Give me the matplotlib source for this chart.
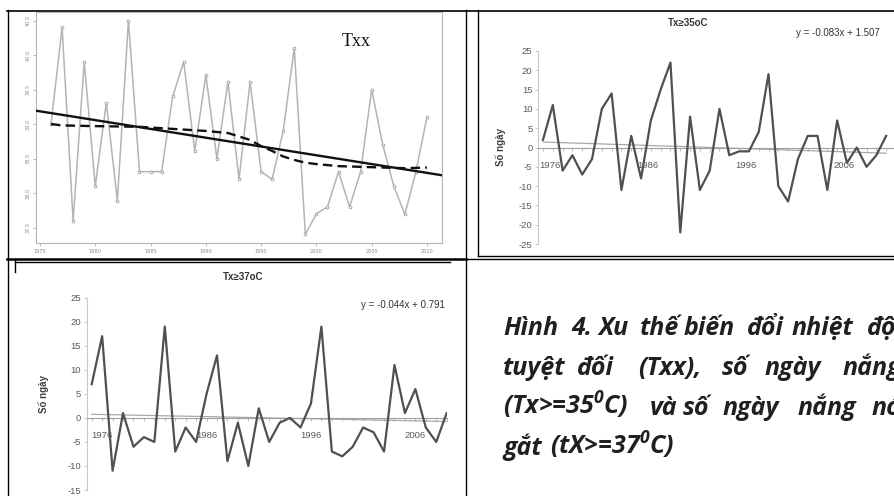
import numpy as np
import matplotlib
matplotlib.use("Agg")
import matplotlib.pyplot as plt
from matplotlib.transforms import offset_copy

plt.rcParams['axes.unicode_minus'] = False
plt.rcParams['mathtext.fontset'] = 'custom'
plt.rcParams['mathtext.rm'] = 'Open Sans:style=italic:weight=bold'
plt.rcParams['mathtext.it'] = 'Open Sans:style=italic:weight=bold'
plt.rcParams['mathtext.bf'] = 'Open Sans:style=italic:weight=bold'

# ---------------- data ----------------
txx_years = list(range(1976, 2011))
txx_values = [39.0, 40.4, 37.6, 39.9, 38.1, 39.31, 37.89, 40.5, 38.31, 38.31,
              38.31, 39.4, 39.9, 38.61, 39.71, 38.5, 39.61, 38.2, 39.61, 38.31,
              38.2, 38.9, 40.1, 37.4, 37.7, 37.8, 38.31, 37.8, 38.31, 39.5,
              38.7, 38.1, 37.69, 38.31, 39.1]
txx_smooth_years = [1976, 1977, 1980, 1984, 1986, 1988, 1990, 1992, 1993, 1994,
                    1995, 1996, 1997, 1998, 1999, 2000, 2002, 2004, 2006, 2008, 2010]
txx_smooth_values = [39.0, 38.98, 38.97, 38.96, 38.94, 38.92, 38.9, 38.87, 38.82, 38.77,
                     38.68, 38.61, 38.53, 38.48, 38.44, 38.42, 38.39, 38.38, 38.37, 38.36, 38.37]
txx_xticks = [1975, 1980, 1985, 1990, 1995, 2000, 2005, 2010]
txx_yticks = [37.5, 38.0, 38.5, 39.0, 39.5, 40.0, 40.5]

tx35_values = [2, 11, -6, -2, -7, -3, 10, 14, -11, 3, -8, 7, 15, 22, -22, 8, -11, -6,
               10, -2, -1, -1, 4, 19, -10, -14, -3, 3, 3, -11, 7, -4, 0, -5, -2, 3]
tx35_trend = (-0.083, 1.507)
tx35_eq = "y = -0.083x + 1.507"
tx35_title = "Tx≥35oC"
tx35_yticks = [25, 20, 15, 10, 5, 0, -5, -10, -15, -20, -25]

tx37_values = [7, 17, -11, 1, -6, -4, -5, 19, -7, -2, -5, 5, 13, -9, -1, -10, 2, -5,
               -1, 0, -2, 3, 19, -7, -8, -6, -2, -3, -7, 11, 1, 6, -2, -5, 1]
tx37_trend = (-0.044, 0.791)
tx37_eq = "y = -0.044x + 0.791"
tx37_title = "Tx≥37oC"
tx37_yticks = [25, 20, 15, 10, 5, 0, -5, -10, -15]

year_labels = ["1976", "1986", "1996", "2006"]
year_label_cats = [1, 11, 21, 31]

ylabel_text = "Số ngày"
caption_lines = [
    [(503, "Hình"), (571, "4."), (598, "Xu"), (640, "thế"), (684, "biến"),
     (747, "đổi"), (792, "nhiệt"), (867, "độ")],
    [(503, "tuyệt"), (577, "đối"), (638, "(Txx),"), (722, "số"), (765, "ngày"),
     (843, "nắng")],
    [(503, r"(Tx>=35$^{0}$C)"), (650, "và"), (683, "số"), (723, "ngày"),
     (798, "nắng"), (872, "nóng")],
    [(503, "gắt"), (550, r"(tX>=37$^{0}$C)")],
]
caption_baselines = [335, 375, 415, 455]

# ---------------- layout helpers ----------------
W, H = 894, 496
fig = plt.figure(figsize=(W / 100, H / 100), dpi=100)
fig.patch.set_facecolor('white')


def rect(l, t, r, b):
    return [l / W, 1 - b / H, (r - l) / W, (b - t) / H]


SANS = ['Liberation Sans', 'DejaVu Sans']

# ---------------- panel 1: Txx ----------------
ax1 = fig.add_axes(rect(36, 12, 442, 243))
ax1.plot(txx_years, txx_values, color='#b4b4b4', lw=1.1, marker='o', ms=2.0,
         mfc='white', mec='#9a9a9a', mew=0.6, zorder=2)
coef = np.polyfit(txx_years, txx_values, 1)
xl = (1974.64, 2011.36)
xx = np.array(xl)
ax1.plot(xx, np.polyval(coef, xx), color='#111111', lw=1.7, zorder=3)
ax1.plot(txx_smooth_years, txx_smooth_values, color='#111111', lw=1.7,
         ls=(0, (4, 2.2)), zorder=3)
ax1.set_xlim(*xl)
ax1.set_ylim(37.276, 40.624)
for s in ax1.spines.values():
    s.set_color('#b5b5b5')
    s.set_linewidth(0.8)
ax1.set_xticks(txx_xticks)
ax1.set_xticklabels([str(v) for v in txx_xticks])
ax1.set_yticks(txx_yticks)
ax1.set_yticklabels([f"{v:.1f}" for v in txx_yticks], rotation=90, va='center')
ax1.tick_params(labelsize=3.6, colors='#a0a0a0', labelcolor='#8a8a8a',
                length=2, width=0.5, pad=2)

# ---------------- excel-like panels ----------------
def excel_panel(l, t, r, b, vals, trend, xlim, ylim, yticks, lab_off):
    ax = fig.add_axes(rect(l, t, r, b))
    n = len(vals)
    x = np.arange(1, n + 1)
    xt = np.array([1, n])
    ax.plot(xt, trend[0] * xt + trend[1], color='#a8a8a8', lw=0.9, zorder=2)
    ax.plot(x, vals, color='#505050', lw=1.6, zorder=3)
    ax.set_xlim(*xlim)
    ax.set_ylim(*ylim)
    ax.spines['top'].set_visible(False)
    ax.spines['right'].set_visible(False)
    ax.spines['left'].set_color('#c8c8c8')
    ax.spines['left'].set_linewidth(0.8)
    ax.spines['bottom'].set_position(('data', 0))
    ax.spines['bottom'].set_color('#a0a0a0')
    ax.spines['bottom'].set_linewidth(0.8)
    ax.set_xticks(x)
    ax.tick_params(axis='x', direction='out', length=2.5, width=0.6,
                   color='#b0b0b0', labelbottom=False)
    ax.set_yticks(yticks)
    ax.set_yticklabels([str(v) for v in yticks])
    ax.tick_params(axis='y', direction='out', length=2.5, width=0.6,
                   color='#c0c0c0', labelsize=6.8, labelcolor='#5a5a5a', pad=1.5)
    for lab in ax.get_yticklabels():
        lab.set_family(SANS)
    tr = offset_copy(ax.transData, fig=fig, x=0, y=-18, units='dots')
    for c, txt in zip(year_label_cats, year_labels):
        ax.text(c + lab_off, 0, txt, transform=tr, ha='center', va='center',
                fontsize=6.8, color='#5a5a5a', family=SANS)
    ax.patch.set_alpha(0)
    return ax


excel_panel(538, 51, 894, 244, tx35_values, tx35_trend, (0.49, 36.8), (-25, 25),
            tx35_yticks, 0.7)
excel_panel(86.7, 297.7, 447, 490, tx37_values, tx37_trend, (0.52, 35.03), (-15, 25),
            tx37_yticks, 1.0)

# ---------------- overlay: texts and table lines ----------------
ax0 = fig.add_axes([0, 0, 1, 1])
ax0.set_xlim(0, W)
ax0.set_ylim(H, 0)
ax0.axis('off')
ax0.set_zorder(10)

ax0.text(342, 42, "Txx", family=['Liberation Serif', 'DejaVu Serif'], fontsize=13,
         ha='left', va='center', color='#111111')

ax0.text(688, 23, tx35_title, family=SANS, fontsize=7, fontweight='bold',
         ha='center', va='center', color='#333333')
ax0.text(880, 33, tx35_eq, family=SANS, fontsize=7, ha='right', va='center',
         color='#333333')
ax0.text(501, 147.5, ylabel_text, family=SANS, fontsize=7, fontweight='bold',
         rotation=90, ha='center', va='center', color='#404040')

ax0.text(243, 277, tx37_title, family=SANS, fontsize=7, fontweight='bold',
         ha='center', va='center', color='#333333')
ax0.text(445, 305, tx37_eq, family=SANS, fontsize=7, ha='right', va='center',
         color='#333333')
ax0.text(44, 394, ylabel_text, family=SANS, fontsize=7, fontweight='bold',
         rotation=90, ha='center', va='center', color='#404040')

for yb, words in zip(caption_baselines, caption_lines):
    for xw, w in words:
        ax0.text(xw, yb, w, family=['Open Sans', 'DejaVu Sans'], fontsize=18,
                 fontweight='bold', style='italic', ha='left', va='baseline',
                 color='#231f20')

# table lines
lc = 'black'
ax0.plot([7, W], [10.5, 10.5], color=lc, lw=1.2)
ax0.plot([7.5, 7.5], [10, H], color=lc, lw=1.0)
ax0.plot([466, 466], [10, H], color=lc, lw=1.0)
ax0.plot([478, 478], [10, 256], color=lc, lw=1.0)
ax0.plot([7, 466], [258.5, 258.5], color=lc, lw=1.8)
ax0.plot([466, W], [258.5, 258.5], color=lc, lw=1.0)
ax0.plot([478, W], [256, 256], color=lc, lw=1.0)
ax0.plot([15, 15], [259, 272], color=lc, lw=1.0)
ax0.plot([15, 450], [262, 262], color=lc, lw=1.0)

fig.savefig("out.png", dpi=100, facecolor='white')
